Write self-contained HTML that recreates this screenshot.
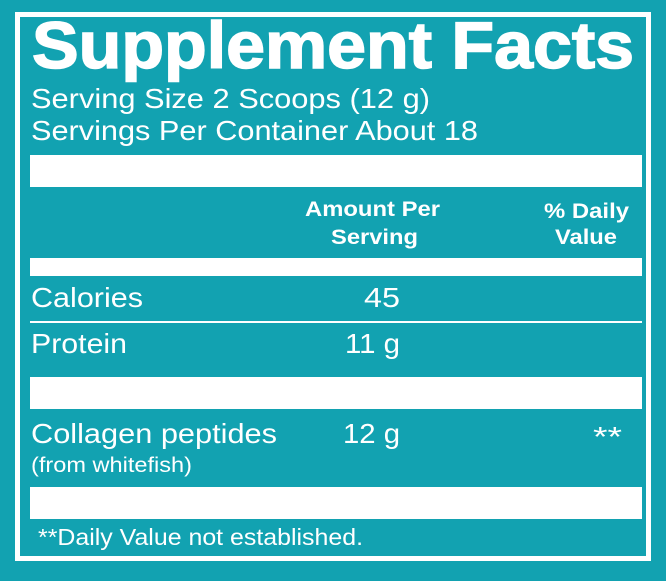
<!DOCTYPE html>
<html><head><style>
html,body{margin:0;padding:0;background:#12a2b1;}
svg{display:block;}
text{font-family:"Liberation Sans",Arial,sans-serif;fill:#fff;}
</style></head><body>
<svg width="666" height="581" viewBox="0 0 666 581">
<rect width="666" height="581" fill="#12a2b1"/>
<rect x="17.5" y="14.5" width="631" height="544" fill="none" stroke="#fff" stroke-width="5"/>
<text x="32" y="68" font-size="66" font-weight="bold" stroke="#fff" stroke-width="1.5" textLength="602" lengthAdjust="spacingAndGlyphs">Supplement Facts</text>
<text x="31" y="108" font-size="28" textLength="399" lengthAdjust="spacingAndGlyphs">Serving Size 2 Scoops (12 g)</text>
<text x="31" y="140" font-size="28" textLength="447" lengthAdjust="spacingAndGlyphs">Servings Per Container About 18</text>
<rect x="30" y="155" width="612" height="32" fill="#fff"/>
<text x="305" y="216" font-size="21" font-weight="bold" textLength="135" lengthAdjust="spacingAndGlyphs">Amount Per</text>
<text x="331" y="244" font-size="21" font-weight="bold" textLength="87" lengthAdjust="spacingAndGlyphs">Serving</text>
<text x="544" y="218" font-size="21" font-weight="bold" textLength="85" lengthAdjust="spacingAndGlyphs">% Daily</text>
<text x="555" y="244" font-size="21" font-weight="bold" textLength="62" lengthAdjust="spacingAndGlyphs">Value</text>
<rect x="30" y="258" width="612" height="18" fill="#fff"/>
<text x="31" y="307" font-size="28" textLength="112" lengthAdjust="spacingAndGlyphs">Calories</text>
<text x="364" y="307" font-size="28" textLength="36" lengthAdjust="spacingAndGlyphs">45</text>
<rect x="30" y="321" width="612" height="2" fill="#fff"/>
<text x="31" y="353" font-size="28" textLength="96" lengthAdjust="spacingAndGlyphs">Protein</text>
<text x="345" y="353" font-size="28" textLength="55" lengthAdjust="spacingAndGlyphs">11 g</text>
<rect x="30" y="377" width="612" height="32" fill="#fff"/>
<text x="31" y="443" font-size="28" textLength="246" lengthAdjust="spacingAndGlyphs">Collagen peptides</text>
<text x="343" y="443" font-size="28" textLength="57" lengthAdjust="spacingAndGlyphs">12 g</text>
<text x="593" y="446" font-size="28" textLength="29" lengthAdjust="spacingAndGlyphs">**</text>
<text x="31" y="472" font-size="21" textLength="161" lengthAdjust="spacingAndGlyphs">(from whitefish)</text>
<rect x="30" y="487" width="612" height="32" fill="#fff"/>
<text x="38" y="545" font-size="23" textLength="325" lengthAdjust="spacingAndGlyphs">**Daily Value not established.</text>
</svg>
</body></html>
